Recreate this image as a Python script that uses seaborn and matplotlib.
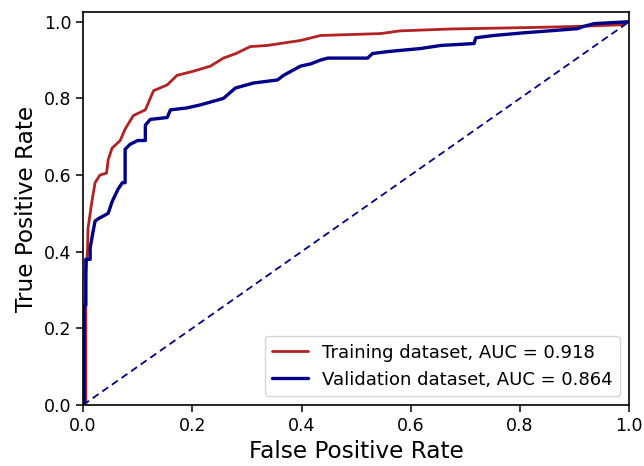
import numpy as np
import pandas as pd
import matplotlib
matplotlib.use("Agg")
import matplotlib.pyplot as plt
import seaborn as sns

# Training ROC
train_fpr = [0.0, 0.005, 0.005, 0.008, 0.009, 0.016, 0.022, 0.031, 0.043, 0.046, 0.053,
             0.068, 0.077, 0.092, 0.114, 0.129, 0.154, 0.172, 0.200, 0.233, 0.257,
             0.280, 0.306, 0.337, 0.398, 0.435, 0.545, 0.580, 0.673, 0.826, 0.912,
             0.985, 1.0]
train_tpr = [0.0, 0.0, 0.34, 0.40, 0.46, 0.53, 0.58, 0.60, 0.605, 0.64, 0.67,
             0.69, 0.72, 0.755, 0.77, 0.82, 0.835, 0.86, 0.87, 0.884, 0.905,
             0.917, 0.935, 0.938, 0.951, 0.964, 0.969, 0.976, 0.981, 0.985, 0.988,
             0.992, 1.0]

# Validation ROC
val_fpr = [0.0, 0.002, 0.002, 0.005, 0.005, 0.013, 0.013, 0.018, 0.022, 0.028, 0.046,
           0.053, 0.059, 0.064, 0.072, 0.077, 0.077, 0.086, 0.100, 0.114, 0.114,
           0.123, 0.154, 0.160, 0.190, 0.215, 0.240, 0.257, 0.279, 0.312, 0.356,
           0.367, 0.380, 0.398, 0.417, 0.435, 0.448, 0.521, 0.530, 0.558, 0.580,
           0.618, 0.655, 0.716, 0.719, 0.752, 0.807, 0.862, 0.906, 0.915, 0.936, 1.0]
val_tpr = [0.0, 0.0, 0.26, 0.26, 0.38, 0.38, 0.41, 0.45, 0.48, 0.486, 0.50,
           0.53, 0.548, 0.563, 0.58, 0.58, 0.667, 0.68, 0.69, 0.69, 0.73,
           0.745, 0.75, 0.77, 0.775, 0.783, 0.793, 0.80, 0.827, 0.84, 0.848,
           0.86, 0.87, 0.884, 0.89, 0.90, 0.905, 0.905, 0.917, 0.922, 0.925,
           0.93, 0.938, 0.943, 0.958, 0.964, 0.971, 0.977, 0.982, 0.987, 0.995, 1.0]

labels = ["Training dataset, AUC = 0.918", "Validation dataset, AUC = 0.864"]
colors = ["#B22222", "#00008B"]
diag = [0.0, 1.0]

sns.set_style("ticks")
plt.rcParams['font.family'] = ['DejaVu Sans']
plt.rcParams['text.color'] = 'black'
plt.rcParams['axes.labelcolor'] = 'black'
plt.rcParams['xtick.color'] = 'black'
plt.rcParams['ytick.color'] = 'black'

fig = plt.figure(figsize=(6.44, 4.66), dpi=100)
ax = fig.add_axes([0.129, 0.131, 0.848, 0.843])

df_t = pd.DataFrame({"fpr": train_fpr, "tpr": train_tpr})
df_v = pd.DataFrame({"fpr": val_fpr, "tpr": val_tpr})

sns.lineplot(data=df_t, x="fpr", y="tpr", ax=ax, color=colors[0], lw=2.0,
             estimator=None, sort=False, label=labels[0])
sns.lineplot(data=df_v, x="fpr", y="tpr", ax=ax, color=colors[1], lw=2.4,
             estimator=None, sort=False, label=labels[1])
ax.plot(diag, diag, color="#00008B", lw=1.3, linestyle="--", dashes=(4, 2.5))

ax.set_xlim(0.0, 1.0)
ax.set_ylim(0.0, 1.025)
ax.set_xticks([0.0, 0.2, 0.4, 0.6, 0.8, 1.0])
ax.set_yticks([0.0, 0.2, 0.4, 0.6, 0.8, 1.0])
ax.set_xlabel("False Positive Rate", fontsize=16.7)
ax.set_ylabel("True Positive Rate", fontsize=16.7)
ax.tick_params(labelsize=12.5, width=1.1, length=5)
for s in ax.spines.values():
    s.set_color("black")
    s.set_linewidth(1.2)
leg = ax.legend(loc="lower right", fontsize=13, frameon=True)
for t in leg.get_texts():
    t.set_color("black")

fig.savefig("out.png", dpi=100)
